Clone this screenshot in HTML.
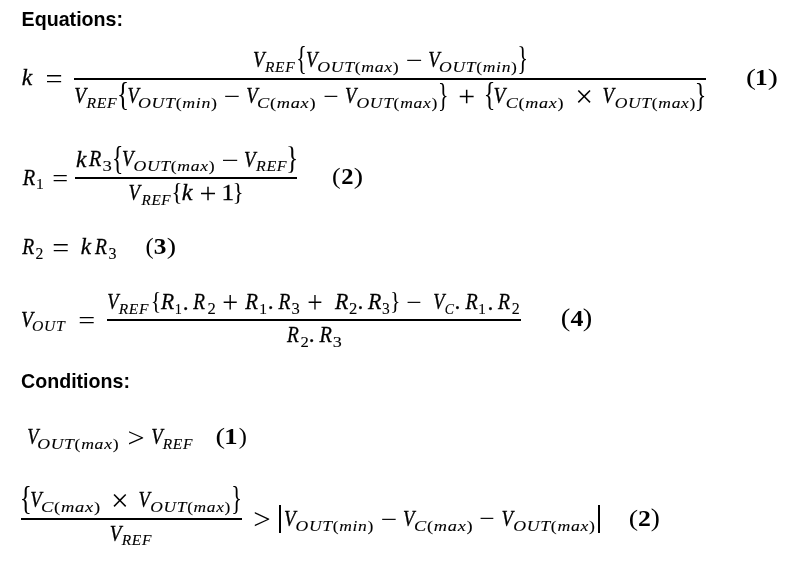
<!DOCTYPE html><html><head><meta charset="utf-8"><style>
*{margin:0;padding:0}
html,body{width:800px;height:561px;background:#fff;overflow:hidden}
body{position:relative;color:#000;filter:grayscale(1) blur(0.3px)}
.t{position:absolute;white-space:nowrap;line-height:1;transform-origin:0 0}
.b{position:absolute;background:#000}
i{font-style:italic}
.sm{-webkit-text-stroke-width:0.1px!important}
.o{-webkit-text-stroke-width:0!important}
.r{font-family:"Liberation Serif",serif;font-style:normal;-webkit-text-stroke:0.3px #000}
.i{font-family:"Liberation Serif",serif;font-style:italic;-webkit-text-stroke:0.3px #000}
.bb{font-family:"Liberation Serif",serif;font-weight:bold}
.H{font-family:"Liberation Sans",sans-serif;font-weight:bold}

</style></head><body>
<div class="b" style="left:74.00px;top:78.00px;width:632.00px;height:2.00px"></div>
<div class="b" style="left:75.00px;top:177.00px;width:222.00px;height:2.00px"></div>
<div class="b" style="left:107.00px;top:319.00px;width:414.00px;height:2.00px"></div>
<div class="b" style="left:21.00px;top:518.00px;width:220.60px;height:2.00px"></div>
<div class="b" style="left:279.20px;top:505.30px;width:2.00px;height:27.70px"></div>
<div class="b" style="left:598.00px;top:505.30px;width:2.00px;height:27.70px"></div>
<span class="t H" style="left:22.50px;top:7.97px;font-size:21.00px;transform:translate(-1.40px,0.00px) scale(0.9351,1.0000)">Equations:</span>
<span class="t H" style="left:22.00px;top:370.22px;font-size:21.00px;transform:translate(-0.93px,0.00px) scale(0.9333,1.0000)">Conditions:</span>
<span class="t i" style="left:21.80px;top:65.82px;font-size:23.50px;transform:translate(0.00px,0.00px) scale(1.0000,1.0000)">k</span>
<span class="t r o" style="left:46.90px;top:65.67px;font-size:23.50px;transform:translate(-1.48px,0.12px) scale(1.2918,1.1660)">=</span>
<span class="t i" style="left:253.75px;top:47.32px;font-size:23.50px;transform:translate(-1.00px,1.00px) scale(0.8031,1.0000)">V</span>
<span class="t r sm" style="left:265.00px;top:58.62px;font-size:15.50px;transform:translate(0.00px,0.00px) scale(1.0000,1.0000)"><span style="letter-spacing:0.6px"><i>REF</i></span></span>
<span class="t r o" style="left:297.80px;top:47.22px;font-size:23.50px;transform:translate(-1.73px,-4.44px) scale(0.9250,1.3975)">{</span>
<span class="t i" style="left:306.70px;top:47.32px;font-size:23.50px;transform:translate(-1.03px,1.00px) scale(0.7937,1.0000)">V</span>
<span class="t r sm" style="left:318.30px;top:58.62px;font-size:15.50px;transform:translate(-0.80px,0.00px) scale(1.1429,1.0000)"><span style="letter-spacing:0.6px"><i>OUT</i>(<i>max</i>)</span></span>
<span class="t r o" style="left:407.00px;top:47.47px;font-size:23.50px;transform:translate(-1.27px,1.90px) scale(1.2727,1.0000)">−</span>
<span class="t i" style="left:428.90px;top:47.32px;font-size:23.50px;transform:translate(-0.87px,1.00px) scale(0.7938,1.0000)">V</span>
<span class="t r sm" style="left:440.10px;top:58.62px;font-size:15.50px;transform:translate(-0.96px,0.00px) scale(1.1326,1.0000)"><span style="letter-spacing:0.6px"><i>OUT</i>(<i>min</i>)</span></span>
<span class="t r o" style="left:519.20px;top:47.33px;font-size:23.50px;transform:translate(-1.56px,-4.57px) scale(0.9250,1.3920)">}</span>
<span class="t i" style="left:75.20px;top:83.32px;font-size:23.50px;transform:translate(-0.66px,1.00px) scale(0.8187,1.0000)">V</span>
<span class="t r sm" style="left:86.40px;top:94.62px;font-size:15.50px;transform:translate(0.41px,0.00px) scale(1.0167,1.0000)"><span style="letter-spacing:0.6px"><i>REF</i></span></span>
<span class="t r o" style="left:119.20px;top:83.48px;font-size:23.50px;transform:translate(-1.93px,-4.74px) scale(1.0714,1.4100)">{</span>
<span class="t i" style="left:128.30px;top:83.32px;font-size:23.50px;transform:translate(-0.55px,1.00px) scale(0.7875,1.0000)">V</span>
<span class="t r sm" style="left:139.10px;top:94.62px;font-size:15.50px;transform:translate(-1.03px,0.00px) scale(1.1493,1.0000)"><span style="letter-spacing:0.6px"><i>OUT</i>(<i>min</i>)</span></span>
<span class="t r o" style="left:225.00px;top:83.48px;font-size:23.50px;transform:translate(-1.24px,1.90px) scale(1.2364,1.0000)">−</span>
<span class="t i" style="left:247.00px;top:83.32px;font-size:23.50px;transform:translate(-0.79px,1.00px) scale(0.7937,1.0000)">V</span>
<span class="t r sm" style="left:257.80px;top:94.62px;font-size:15.50px;transform:translate(-0.97px,0.00px) scale(1.1824,1.0000)"><span style="letter-spacing:0.6px"><i>C</i>(<i>max</i>)</span></span>
<span class="t r o" style="left:324.20px;top:83.48px;font-size:23.50px;transform:translate(-0.81px,1.84px) scale(1.1647,1.0000)">−</span>
<span class="t i" style="left:345.80px;top:83.32px;font-size:23.50px;transform:translate(-0.94px,1.00px) scale(0.7875,1.0000)">V</span>
<span class="t r sm" style="left:357.00px;top:94.62px;font-size:15.50px;transform:translate(-0.54px,0.00px) scale(1.1321,1.0000)"><span style="letter-spacing:0.6px"><i>OUT</i>(<i>max</i>)</span></span>
<span class="t r o" style="left:439.70px;top:83.73px;font-size:23.50px;transform:translate(-2.11px,-4.63px) scale(0.9250,1.3885)">}</span>
<span class="t r o" style="left:459.70px;top:83.48px;font-size:23.50px;transform:translate(-1.65px,-1.11px) scale(1.2727,1.2727)">+</span>
<span class="t r o" style="left:485.90px;top:83.48px;font-size:23.50px;transform:translate(-2.22px,-4.57px) scale(1.0312,1.4160)">{</span>
<span class="t i" style="left:494.40px;top:83.32px;font-size:23.50px;transform:translate(-0.49px,1.00px) scale(0.8188,1.0000)">V</span>
<span class="t r sm" style="left:507.00px;top:94.62px;font-size:15.50px;transform:translate(-1.17px,0.00px) scale(1.1676,1.0000)"><span style="letter-spacing:0.6px"><i>C</i>(<i>max</i>)</span></span>
<span class="t r o" style="left:578.00px;top:83.48px;font-size:23.50px;transform:translate(-2.69px,-2.02px) scale(1.3444,1.3556)">×</span>
<span class="t i" style="left:603.40px;top:83.32px;font-size:23.50px;transform:translate(-0.48px,1.00px) scale(0.7938,1.0000)">V</span>
<span class="t r sm" style="left:614.70px;top:94.62px;font-size:15.50px;transform:translate(-0.34px,0.00px) scale(1.1310,1.0000)"><span style="letter-spacing:0.6px"><i>OUT</i>(<i>max</i>)</span></span>
<span class="t r o" style="left:697.30px;top:83.73px;font-size:23.50px;transform:translate(-2.17px,-5.04px) scale(1.0230,1.4065)">}</span>
<span class="t r o" style="left:747.30px;top:66.53px;font-size:23.50px;transform:translate(-0.89px,-1.12px) scale(1.2667,1.0048)">(</span>
<span class="t bb" style="left:756.90px;top:64.60px;font-size:23.50px;transform:translate(-1.89px,0.91px) scale(1.0800,1.0090)">1</span>
<span class="t r o" style="left:769.00px;top:66.53px;font-size:23.50px;transform:translate(-1.30px,-1.12px) scale(1.3000,1.0048)">)</span>
<span class="t i" style="left:21.85px;top:165.02px;font-size:23.50px;transform:translate(0.74px,0.70px) scale(0.8667,1.0000)">R</span>
<span class="t r sm" style="left:36.05px;top:175.75px;font-size:15.50px;transform:translate(0.00px,0.00px) scale(1.0000,1.0000)">1</span>
<span class="t r o" style="left:53.25px;top:165.22px;font-size:23.50px;transform:translate(-0.74px,1.37px) scale(1.1994,1.0815)">=</span>
<span class="t i" style="left:76.00px;top:147.07px;font-size:23.50px;transform:translate(0.00px,0.75px) scale(0.9909,1.0000)">k</span>
<span class="t i" style="left:89.10px;top:146.72px;font-size:23.50px;transform:translate(0.09px,0.40px) scale(0.8571,1.0000)">R</span>
<span class="t r sm" style="left:103.40px;top:157.47px;font-size:15.50px;transform:translate(-0.45px,1.24px) scale(1.2031,0.9682)">3</span>
<span class="t r o" style="left:113.75px;top:146.90px;font-size:23.50px;transform:translate(-2.03px,-5.24px) scale(1.0056,1.4166)">{</span>
<span class="t i" style="left:122.75px;top:146.72px;font-size:23.50px;transform:translate(-1.00px,0.40px) scale(0.7969,1.0000)">V</span>
<span class="t r sm" style="left:134.00px;top:157.82px;font-size:15.50px;transform:translate(-0.55px,0.00px) scale(1.1384,1.0000)"><span style="letter-spacing:0.6px"><i>OUT</i>(<i>max</i>)</span></span>
<span class="t r o" style="left:222.80px;top:147.27px;font-size:23.50px;transform:translate(-1.56px,1.70px) scale(1.3000,1.0000)">−</span>
<span class="t i" style="left:244.80px;top:147.32px;font-size:23.50px;transform:translate(-0.96px,1.00px) scale(0.8000,1.0000)">V</span>
<span class="t r sm" style="left:256.00px;top:157.62px;font-size:15.50px;transform:translate(0.00px,0.00px) scale(1.0333,1.0000)"><span style="letter-spacing:0.6px"><i>REF</i></span></span>
<span class="t r o" style="left:288.10px;top:146.92px;font-size:23.50px;transform:translate(-2.03px,-4.22px) scale(1.0976,1.3741)">}</span>
<span class="t i" style="left:129.40px;top:180.52px;font-size:23.50px;transform:translate(-0.48px,0.20px) scale(0.7937,1.0000)">V</span>
<span class="t r sm" style="left:140.60px;top:191.62px;font-size:15.50px;transform:translate(0.59px,0.00px) scale(0.9806,1.0000)"><span style="letter-spacing:0.6px"><i>REF</i></span></span>
<span class="t r o" style="left:173.30px;top:180.82px;font-size:23.50px;transform:translate(-2.12px,-1.29px) scale(1.0000,1.0904)">{</span>
<span class="t i" style="left:181.70px;top:180.12px;font-size:23.50px;transform:translate(-0.31px,0.80px) scale(1.0273,1.0000)">k</span>
<span class="t r o" style="left:200.90px;top:181.05px;font-size:23.50px;transform:translate(-1.41px,-1.18px) scale(1.2818,1.2318)">+</span>
<span class="t r" style="left:223.40px;top:179.62px;font-size:23.50px;transform:translate(-1.47px,1.70px) scale(1.0723,0.9473)">1</span>
<span class="t r o" style="left:234.70px;top:180.82px;font-size:23.50px;transform:translate(-2.30px,-1.24px) scale(1.0000,1.0750)">}</span>
<span class="t r o" style="left:332.60px;top:165.97px;font-size:23.50px;transform:translate(-0.95px,-0.85px) scale(1.0972,1.0080)">(</span>
<span class="t bb" style="left:341.60px;top:164.00px;font-size:23.50px;transform:translate(-0.64px,1.96px) scale(1.0450,0.9737)">2</span>
<span class="t r o" style="left:354.50px;top:165.97px;font-size:23.50px;transform:translate(-1.16px,-0.85px) scale(1.1918,1.0080)">)</span>
<span class="t i" style="left:21.90px;top:234.62px;font-size:23.50px;transform:translate(0.31px,0.24px) scale(0.8325,1.0000)">R</span>
<span class="t r sm" style="left:36.40px;top:245.03px;font-size:15.50px;transform:translate(-0.61px,-0.17px) scale(1.0143,1.0900)">2</span>
<span class="t r o" style="left:53.60px;top:234.82px;font-size:23.50px;transform:translate(-1.69px,-0.10px) scale(1.2794,1.1641)">=</span>
<span class="t i" style="left:81.40px;top:234.42px;font-size:23.50px;transform:translate(-0.34px,1.16px) scale(0.9832,1.0000)">k</span>
<span class="t i" style="left:94.90px;top:234.62px;font-size:23.50px;transform:translate(-0.08px,0.30px) scale(0.8286,1.0000)">R</span>
<span class="t r sm" style="left:108.75px;top:245.03px;font-size:15.50px;transform:translate(-0.40px,-0.09px) scale(1.0312,1.0841)">3</span>
<span class="t r o" style="left:145.60px;top:235.62px;font-size:23.50px;transform:translate(-0.42px,-1.08px) scale(1.0429,1.0095)">(</span>
<span class="t bb" style="left:154.90px;top:233.57px;font-size:23.50px;transform:translate(-1.37px,1.54px) scale(1.0787,0.9969)">3</span>
<span class="t r o" style="left:167.50px;top:235.62px;font-size:23.50px;transform:translate(-1.16px,-1.18px) scale(1.1918,1.0211)">)</span>
<span class="t i" style="left:21.90px;top:307.12px;font-size:23.50px;transform:translate(-0.91px,0.80px) scale(0.8313,1.0000)">V</span>
<span class="t r sm" style="left:33.10px;top:318.32px;font-size:15.50px;transform:translate(-0.91px,0.00px) scale(1.0125,1.0000)"><span style="letter-spacing:0.6px"><i>OUT</i></span></span>
<span class="t r o" style="left:79.80px;top:307.22px;font-size:23.50px;transform:translate(-1.65px,2.52px) scale(1.2777,0.9735)">=</span>
<span class="t i" style="left:108.00px;top:289.42px;font-size:23.50px;transform:translate(-0.78px,1.10px) scale(0.7812,1.0000)">V</span>
<span class="t r sm" style="left:118.75px;top:300.72px;font-size:15.50px;transform:translate(0.00px,0.00px) scale(1.0000,1.0000)"><span style="letter-spacing:0.6px"><i>REF</i></span></span>
<span class="t r o" style="left:152.50px;top:289.82px;font-size:23.50px;transform:translate(-2.32px,-0.97px) scale(0.9286,1.0550)">{</span>
<span class="t i" style="left:161.00px;top:289.42px;font-size:23.50px;transform:translate(0.00px,1.10px) scale(0.9143,1.0000)">R</span>
<span class="t r sm" style="left:175.00px;top:300.48px;font-size:15.50px;transform:translate(-0.33px,1.60px) scale(0.9200,0.9200)">1</span>
<span class="t r" style="left:184.70px;top:294.97px;font-size:23.50px;transform:translate(-1.90px,-4.36px) scale(1.0000,1.0000)">.</span>
<span class="t i" style="left:193.25px;top:289.42px;font-size:23.50px;transform:translate(0.20px,1.10px) scale(0.8167,1.0000)">R</span>
<span class="t r sm" style="left:207.50px;top:300.08px;font-size:15.50px;transform:translate(-0.54px,0.44px) scale(1.0714,1.0200)">2</span>
<span class="t r o" style="left:223.25px;top:289.72px;font-size:23.50px;transform:translate(-0.74px,-2.84px) scale(1.1994,1.3469)">+</span>
<span class="t i" style="left:245.20px;top:289.42px;font-size:23.50px;transform:translate(0.31px,1.16px) scale(0.8875,1.0000)">R</span>
<span class="t r sm" style="left:259.20px;top:300.52px;font-size:15.50px;transform:translate(0.00px,0.00px) scale(1.0000,1.0000)">1</span>
<span class="t r" style="left:269.50px;top:294.97px;font-size:23.50px;transform:translate(-1.85px,-4.60px) scale(1.0000,1.0000)">.</span>
<span class="t i" style="left:277.50px;top:289.42px;font-size:23.50px;transform:translate(0.41px,1.10px) scale(0.8267,1.0000)">R</span>
<span class="t r sm" style="left:291.50px;top:300.12px;font-size:15.50px;transform:translate(-0.54px,0.10px) scale(1.0714,1.0700)">3</span>
<span class="t r o" style="left:308.30px;top:289.72px;font-size:23.50px;transform:translate(-0.63px,-2.84px) scale(1.1647,1.3469)">+</span>
<span class="t i" style="left:335.00px;top:289.42px;font-size:23.50px;transform:translate(0.00px,1.10px) scale(0.9286,1.0000)">R</span>
<span class="t r sm" style="left:349.00px;top:300.12px;font-size:15.50px;transform:translate(0.00px,0.41px) scale(1.0714,1.0300)">2</span>
<span class="t r" style="left:359.40px;top:294.97px;font-size:23.50px;transform:translate(-1.95px,-4.60px) scale(1.0000,1.0000)">.</span>
<span class="t i" style="left:368.00px;top:289.42px;font-size:23.50px;transform:translate(0.00px,1.10px) scale(0.9286,1.0000)">R</span>
<span class="t r sm" style="left:382.00px;top:300.02px;font-size:15.50px;transform:translate(0.00px,-0.01px) scale(1.0000,1.0700)">3</span>
<span class="t r o" style="left:391.90px;top:289.88px;font-size:23.50px;transform:translate(-1.95px,-1.51px) scale(0.9286,1.1000)">}</span>
<span class="t r o" style="left:407.30px;top:289.57px;font-size:23.50px;transform:translate(-0.63px,1.00px) scale(1.1647,1.0000)">−</span>
<span class="t i" style="left:433.90px;top:289.42px;font-size:23.50px;transform:translate(-0.85px,1.10px) scale(0.7750,1.0000)">V</span>
<span class="t r sm" style="left:444.70px;top:300.72px;font-size:15.50px;transform:translate(-0.27px,0.00px) scale(0.8900,1.0000)"><i>C</i></span>
<span class="t r" style="left:456.40px;top:294.97px;font-size:23.50px;transform:translate(-1.95px,-4.60px) scale(1.0000,1.0000)">.</span>
<span class="t i" style="left:465.30px;top:289.42px;font-size:23.50px;transform:translate(0.44px,1.16px) scale(0.8542,1.0000)">R</span>
<span class="t r sm" style="left:479.40px;top:300.38px;font-size:15.50px;transform:translate(-0.77px,1.05px) scale(0.9800,0.9800)">1</span>
<span class="t r" style="left:488.90px;top:294.97px;font-size:23.50px;transform:translate(-1.44px,-4.48px) scale(1.0000,1.0000)">.</span>
<span class="t i" style="left:497.50px;top:289.42px;font-size:23.50px;transform:translate(0.12px,1.16px) scale(0.8349,1.0000)">R</span>
<span class="t r sm" style="left:511.90px;top:300.08px;font-size:15.50px;transform:translate(-0.16px,0.37px) scale(1.0312,1.0369)">2</span>
<span class="t i" style="left:286.50px;top:322.22px;font-size:23.50px;transform:translate(0.12px,0.84px) scale(0.8245,1.0000)">R</span>
<span class="t r sm" style="left:300.70px;top:333.38px;font-size:15.50px;transform:translate(-0.50px,1.08px) scale(1.0752,0.9682)">2</span>
<span class="t r" style="left:310.50px;top:327.78px;font-size:23.50px;transform:translate(-1.80px,-4.80px) scale(1.0000,1.0000)">.</span>
<span class="t i" style="left:319.40px;top:322.22px;font-size:23.50px;transform:translate(0.60px,0.84px) scale(0.8652,1.0000)">R</span>
<span class="t r sm" style="left:332.80px;top:333.18px;font-size:15.50px;transform:translate(-0.35px,1.00px) scale(1.1658,0.9755)">3</span>
<span class="t r o" style="left:562.00px;top:306.93px;font-size:23.50px;transform:translate(-1.22px,-1.23px) scale(1.2167,1.0429)">(</span>
<span class="t bb" style="left:570.75px;top:305.77px;font-size:23.50px;transform:translate(-0.58px,1.23px) scale(1.1009,1.0123)">4</span>
<span class="t r o" style="left:584.00px;top:306.93px;font-size:23.50px;transform:translate(-1.22px,-1.23px) scale(1.2167,1.0429)">)</span>
<span class="t i" style="left:27.50px;top:424.47px;font-size:23.50px;transform:translate(-0.68px,1.24px) scale(0.7779,1.0000)">V</span>
<span class="t r sm" style="left:38.30px;top:435.82px;font-size:15.50px;transform:translate(-0.80px,0.00px) scale(1.1400,1.0000)"><span style="letter-spacing:0.6px"><i>OUT</i>(<i>max</i>)</span></span>
<span class="t r o" style="left:128.90px;top:424.45px;font-size:23.50px;transform:translate(-1.54px,0.26px) scale(1.2928,1.1848)">></span>
<span class="t i" style="left:152.00px;top:424.47px;font-size:23.50px;transform:translate(-0.79px,1.15px) scale(0.7937,1.0000)">V</span>
<span class="t r sm" style="left:162.80px;top:435.82px;font-size:15.50px;transform:translate(0.00px,0.00px) scale(1.0000,1.0000)"><span style="letter-spacing:0.6px"><i>REF</i></span></span>
<span class="t r o" style="left:216.75px;top:425.62px;font-size:23.50px;transform:translate(-1.53px,-1.08px) scale(1.2250,1.0095)">(</span>
<span class="t bb" style="left:226.20px;top:423.57px;font-size:23.50px;transform:translate(-1.70px,1.54px) scale(1.1370,0.9969)">1</span>
<span class="t r o" style="left:238.70px;top:425.62px;font-size:23.50px;transform:translate(-0.31px,-1.08px) scale(1.0429,1.0095)">)</span>
<span class="t r o" style="left:22.00px;top:487.27px;font-size:23.50px;transform:translate(-2.14px,-5.27px) scale(1.0714,1.4300)">{</span>
<span class="t i" style="left:30.90px;top:487.32px;font-size:23.50px;transform:translate(-0.87px,1.00px) scale(0.7938,1.0000)">V</span>
<span class="t r sm" style="left:42.20px;top:498.52px;font-size:15.50px;transform:translate(-0.95px,0.00px) scale(1.1937,1.0000)"><span style="letter-spacing:0.6px"><i>C</i>(<i>max</i>)</span></span>
<span class="t r o" style="left:113.60px;top:487.22px;font-size:23.50px;transform:translate(-3.03px,-1.43px) scale(1.3367,1.3140)">×</span>
<span class="t i" style="left:139.40px;top:487.32px;font-size:23.50px;transform:translate(-0.47px,1.00px) scale(0.7875,1.0000)">V</span>
<span class="t r sm" style="left:150.60px;top:498.52px;font-size:15.50px;transform:translate(-0.69px,0.00px) scale(1.1224,1.0000)"><span style="letter-spacing:0.6px"><i>OUT</i>(<i>max</i>)</span></span>
<span class="t r o" style="left:233.40px;top:487.47px;font-size:23.50px;transform:translate(-1.71px,-4.57px) scale(0.9458,1.4160)">}</span>
<span class="t i" style="left:110.50px;top:521.07px;font-size:23.50px;transform:translate(-1.33px,0.90px) scale(0.8078,1.0000)">V</span>
<span class="t r sm" style="left:121.75px;top:532.27px;font-size:15.50px;transform:translate(0.00px,0.00px) scale(1.0000,1.0000)"><span style="letter-spacing:0.6px"><i>REF</i></span></span>
<span class="t r o" style="left:254.70px;top:506.03px;font-size:23.50px;transform:translate(-1.71px,-1.78px) scale(1.3182,1.2818)">></span>
<span class="t i" style="left:284.70px;top:506.32px;font-size:23.50px;transform:translate(-1.05px,1.00px) scale(0.8063,1.0000)">V</span>
<span class="t r sm" style="left:296.40px;top:517.62px;font-size:15.50px;transform:translate(-0.44px,0.00px) scale(1.1318,1.0000)"><span style="letter-spacing:0.6px"><i>OUT</i>(<i>min</i>)</span></span>
<span class="t r o" style="left:381.90px;top:506.07px;font-size:23.50px;transform:translate(-1.36px,1.50px) scale(1.2364,1.0000)">−</span>
<span class="t i" style="left:403.75px;top:506.32px;font-size:23.50px;transform:translate(-0.99px,1.00px) scale(0.7906,1.0000)">V</span>
<span class="t r sm" style="left:414.50px;top:517.62px;font-size:15.50px;transform:translate(-0.89px,0.00px) scale(1.1818,1.0000)"><span style="letter-spacing:0.6px"><i>C</i>(<i>max</i>)</span></span>
<span class="t r o" style="left:480.30px;top:506.07px;font-size:23.50px;transform:translate(-0.63px,1.20px) scale(1.1647,1.0000)">−</span>
<span class="t i" style="left:502.30px;top:506.32px;font-size:23.50px;transform:translate(-0.56px,1.00px) scale(0.7937,1.0000)">V</span>
<span class="t r sm" style="left:513.60px;top:517.62px;font-size:15.50px;transform:translate(-0.70px,0.00px) scale(1.1435,1.0000)"><span style="letter-spacing:0.6px"><i>OUT</i>(<i>max</i>)</span></span>
<span class="t r o" style="left:630.00px;top:507.12px;font-size:23.50px;transform:translate(-1.19px,-0.12px) scale(1.1935,0.9983)">(</span>
<span class="t bb" style="left:639.00px;top:505.03px;font-size:23.50px;transform:translate(-1.10px,1.06px) scale(1.0967,1.0266)">2</span>
<span class="t r o" style="left:652.00px;top:507.12px;font-size:23.50px;transform:translate(-1.17px,-0.90px) scale(1.1667,1.0333)">)</span>
</body></html>
